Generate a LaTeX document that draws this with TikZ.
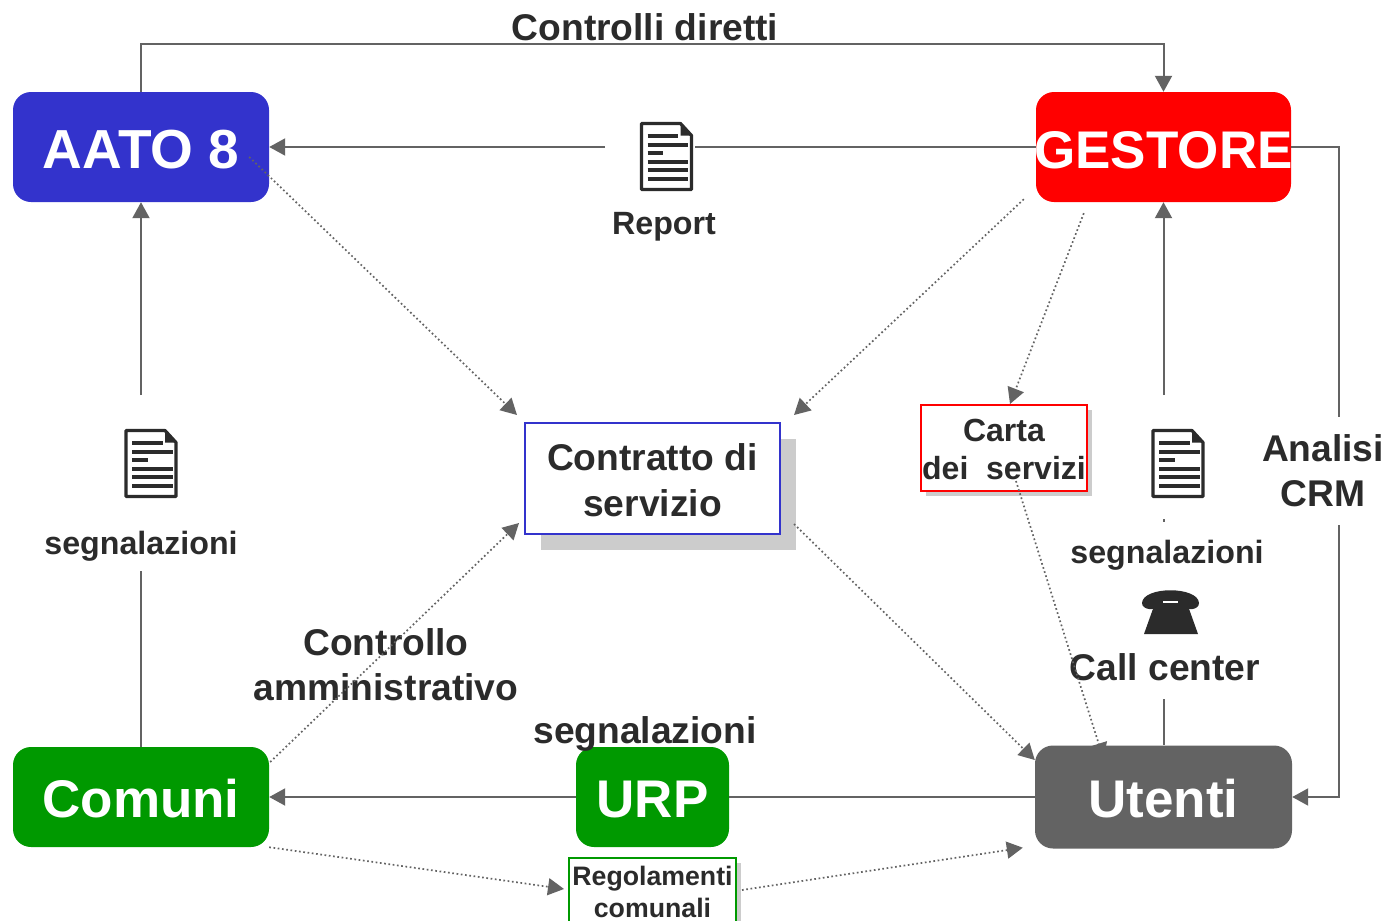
\documentclass[tikz,border=0pt]{standalone}
\usepackage{fontspec}
\setmainfont{Liberation Sans}
\usetikzlibrary{arrows.meta}
\definecolor{inkgrey}{HTML}{2B2B2B}
\definecolor{linegrey}{HTML}{636363}
\definecolor{shadowgrey}{HTML}{CCCCCC}
\definecolor{aatoblue}{HTML}{3333CC}
\definecolor{urpgreen}{HTML}{009900}
\newcommand{\bigfont}{\fontsize{53}{56}\selectfont\bfseries}
\newcommand{\midfont}{\fontsize{37.2}{45}\selectfont\bfseries}
\newcommand{\smallfont}{\fontsize{32.2}{36}\selectfont\bfseries}

\begin{document}
\begin{tikzpicture}
    [
      x=1pt,y=-1pt,
      actor/.style={rectangle,rounded corners=18pt,text=white,font=\bigfont,
        inner sep=0pt,minimum width=256pt,minimum height=100pt,
        text height=40pt,text depth=0pt},
      paper/.style={rectangle,draw,fill=white,line width=2pt,text=inkgrey,
        align=center,inner sep=0pt},
      label/.style={text=inkgrey,align=center,inner sep=0pt},
      link/.style={draw=linegrey,line width=2pt},
      flow/.style={link,-{Triangle[length=16pt,width=17pt]}},
      dots/.style={draw=linegrey,line width=1.7pt,dash pattern=on 1.7pt off 2.6pt,
        -{Triangle[length=16pt,width=17pt]}},
      doc/.pic={
        \draw [inkgrey,line width=3.2pt,fill=white,line join=round]
          (-25,-33) -- (14,-33) -- (25,-21) -- (25,33) -- (-25,33) -- cycle;
        \fill [inkgrey] (14,-33) -- (25,-21) -- (14,-21) -- cycle;
        \foreach \ya/\xb in {-20.5/11.5,-11.5/21.5,-3.5/-3.5,5.5/21.5,13.5/21.5,22.5/21.5}
          \draw [inkgrey,line width=4.4pt] (-19,\ya) -- (\xb,\ya);
      }
    ]

    \useasboundingbox (0,0) rectangle (1390,921);

    % boxes
    \node at (141,147) [actor,fill=aatoblue,minimum height=110pt,text height=43pt,font=\fontsize{55}{56}\selectfont\bfseries] (aato) {AATO 8};
    \node at (1163.5,147) [actor,fill=red,minimum width=255pt,minimum height=110pt,text height=43pt,inner xsep=-3pt] (gestore) {GESTORE};
    \node at (141,797) [actor,fill=urpgreen] (comuni) {Comuni};
    \node at (652.5,797) [actor,fill=urpgreen,minimum width=153pt] (urp) {URP};

    \fill [shadowgrey] (541,439) rectangle (796,550);
    \node at (652.5,478.5) [paper,draw=aatoblue,minimum width=255pt,minimum height=111pt,font=\fontsize{37.2}{46}\selectfont\bfseries] (contratto) {\rule{0pt}{30pt}Contratto di\\servizio};
    \fill [shadowgrey] (926,410) rectangle (1092,496);
    \node at (1004,448) [paper,draw=red,minimum width=166pt,minimum height=86pt,font=\fontsize{32}{38}\selectfont\bfseries] (carta) {\rule{0pt}{26pt}Carta\\dei\ \ servizi};
    \fill [shadowgrey] (574,863) rectangle (741,935);
    \node at (652.5,892) [paper,draw=urpgreen,minimum width=167pt,minimum height=68pt,font=\fontsize{26.7}{32}\selectfont\bfseries] (regolamenti) {Regolamenti\\comunali};

    % labels and icons
    \node at (645,27) [label,font=\midfont] (controlli) {Controlli diretti};
    \node at (664,227) [label,font=\smallfont] (report) {Report};
    \node at (141,546) [label,font=\smallfont] (segnaato) {segnalazioni};
    \node at (1167,555) [label,font=\smallfont] (segngestore) {segnalazioni};
    \node at (645,734) [label,font=\midfont] (segnurp) {segnalazioni};
    \node at (386,665) [label,font=\midfont] (amministrativo) {Controllo\\amministrativo};
    \node at (1165,667) [label,font=\midfont] (callcenter) {Call center};
    \node at (1323,471) [label,font=\midfont,fill=white,minimum height=108pt] (analisi) {Analisi\\CRM};

    \pic at (666.5,156.5) {doc};
    \pic at (151,463.5) {doc};
    \pic at (1178,463.5) {doc};

    \fill [inkgrey] (1154,606) -- (1144,634) -- (1198,634) -- (1188,606) -- cycle;
    \fill [inkgrey] (1142,603) .. controls (1143,586) and (1198,586) .. (1199,603)
      .. controls (1199,610) and (1187,611) .. (1184,606) -- (1158,606)
      .. controls (1155,611) and (1142,610) .. (1142,603) -- cycle;
    \fill [white] (1163,601) rectangle (1178,603);

    \coordinate (reportleft) at (605,147);
    \coordinate (reportright) at (695,147);
    \coordinate (docaato) at (141,395);
    \coordinate (segnbottom) at (141,571);
    \coordinate (docgestore) at (1163.5,395);
    \coordinate (stubtop) at (1163.5,519);
    \coordinate (stubbottom) at (1163.5,522);
    \coordinate (callbottom) at (1163.5,699);
    \coordinate (utenticentre) at (1163.5,797);

    % runs under the Utenti box
    \draw [dots] ([shift={(12,-11)}]carta.south) -- ([shift={(-60,-38)}]utenticentre);

    \node at (utenticentre) [actor,fill=linegrey,minimum width=257pt,minimum height=103pt] (utenti) {Utenti};

    % solid connectors
    \draw [flow] (aato.north) -- (141,44) -| (gestore.north);
    \draw [link] (gestore.west) -- (reportright);
    \draw [flow] (reportleft) -- (aato.east);
    \draw [flow] (docaato) -- (aato.south);
    \draw [link] (segnbottom) -- (comuni.north);
    \draw [flow] (docgestore) -- (gestore.south);
    \draw [link] (stubtop) -- (stubbottom);
    \draw [link] (callbottom) -- (utenti.north);
    \draw [link] (urp.east) -- (utenti.west);
    \draw [flow] (urp.west) -- (comuni.east);
    \draw [link] (gestore.east) -| (analisi.north -| 1339,0);
    \draw [flow] (analisi.south -| 1339,0) |- (utenti.east);

    % dotted connectors
    \draw [dots] ([shift={(-20,10)}]aato.east) -- ([shift={(-7,-7)}]contratto.north west);
    \draw [dots] ([shift={(-12,-3)}]gestore.south west) -- ([shift={(13,-7)}]contratto.north east);
    \draw [dots] ([shift={(48,11)}]gestore.south west) -- ([shift={(6,0)}]carta.north);
    \draw [dots] ([shift={(13,-11)}]contratto.south east) -- ([shift={(0,-37)}]utenti.west);
    \draw [dots] ([shift={(1,-35)}]comuni.east) -- ([shift={(-5,-12)}]contratto.south west);
    \draw [dots] (comuni.south east) -- ([shift={(-4,-3)}]regolamenti.west);
    \draw [dots] ([shift={(5,-2)}]regolamenti.east) -- ([shift={(-12,-1)}]utenti.south west);
  \end{tikzpicture}
\end{document}
